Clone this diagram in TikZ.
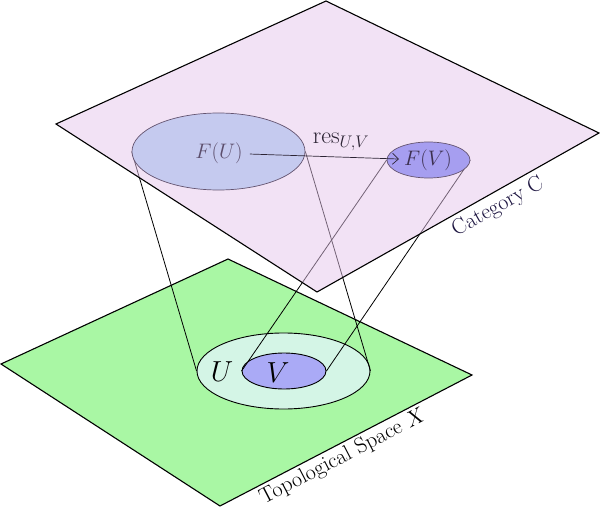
\RequirePackage{fix-cm}
\documentclass[tikz,border=0pt]{standalone}
\usepackage{fontspec}
\usetikzlibrary{shapes.geometric,arrows.meta}
\pgfdeclarelayer{lowA}
\pgfdeclarelayer{lowB}
\pgfdeclarelayer{lowC}
\pgfsetlayers{lowA,lowB,lowC,main}
\definecolor{topfill}{RGB}{229,197,235}
\definecolor{greenfill}{RGB}{169,247,164}
\definecolor{uell}{RGB}{212,245,230}
\definecolor{vell}{RGB}{170,170,246}
\definecolor{fuell}{RGB}{197,202,239}
\definecolor{fvell}{RGB}{166,158,240}
\definecolor{topline}{RGB}{100,84,112}
\definecolor{futext}{RGB}{92,78,108}
\definecolor{fvtext}{RGB}{60,48,80}
\definecolor{restext}{RGB}{44,36,52}
\definecolor{catcol}{RGB}{28,20,64}
\tikzset{
  planeedge/.style={draw=black, line width=1.1pt},
  conn/.style={draw=black, line width=0.8pt},
  topell/.style={ellipse, draw=topline, line width=0.7pt, inner sep=0pt},
  botell/.style={ellipse, draw=black, line width=0.9pt, inner sep=0pt},
  toptext/.style={inner sep=7pt, font=\fontsize{21}{25}\selectfont},
  bigtext/.style={inner sep=1pt, font=\fontsize{29}{33}\selectfont},
  edgetext/.style={inner sep=1pt, font=\fontsize{22}{26}\selectfont},
  resarrow/.style={draw=restext, line width=0.7pt, -{Straight Barb[length=6pt,width=11pt]}}
}
\begin{document}
\begin{tikzpicture}[x=1pt,y=-1pt]
\useasboundingbox (0,0) rectangle (600,508);
% top layer objects
\node[topell, fill=fuell, minimum width=173pt, minimum height=77pt] (FUe) at (218.5,151.5) {};
\node[topell, fill=fvell, minimum width=83pt, minimum height=36pt] (FVe) at (428.5,160) {};
\node[toptext, text=futext] (FUt) at (219,153) {$F(U)$};
\node[toptext, inner sep=5pt, text=fvtext] (FVt) at (428,160) {$F(V)$};
\draw[resarrow] (FUt) -- (FVt);
\node[inner sep=1pt, text=restext, font=\fontsize{24}{28}\selectfont] (res) at (341,142) {$\mathrm{res}_{U,V}$};
\node[edgetext, text=catcol, rotate=29.4] (cat) at (498,207) {Category C};
\begin{pgfonlayer}{lowA}
  \fill[greenfill] (228,259) -- (472,375) -- (220,506) -- (1,364) -- cycle;
  \draw[planeedge] (228,259) -- (472,375) -- (220,506) -- (1,364) -- cycle;
  \node[botell, fill=uell, minimum width=173pt, minimum height=76pt] (Ue) at (283.5,371) {};
  \node[botell, fill=vell, minimum width=84pt, minimum height=36pt] (Ve) at (284,371) {};
  \node[bigtext] (Ut) at (222,372) {$U$};
  \node[bigtext] (Vt) at (278,373) {$V$};
  \node[edgetext, rotate=27.5] (topo) at (343,457) {Topological Space $X$};
\end{pgfonlayer}
\begin{pgfonlayer}{lowB}
  \draw[conn] (FUe.west) -- (Ue.west);
  \draw[conn] (FUe.east) -- (Ue.east);
  \draw[conn] (FVe.west) -- (Ve.west);
  \draw[conn] (FVe.east) -- (Ve.east);
\end{pgfonlayer}
\begin{pgfonlayer}{lowC}
  \fill[topfill, fill opacity=0.5] (326,1) -- (599,133) -- (317,292) -- (56,124) -- cycle;
  \draw[planeedge] (326,1) -- (599,133) -- (317,292) -- (56,124) -- cycle;
\end{pgfonlayer}
\end{tikzpicture}
\end{document}
